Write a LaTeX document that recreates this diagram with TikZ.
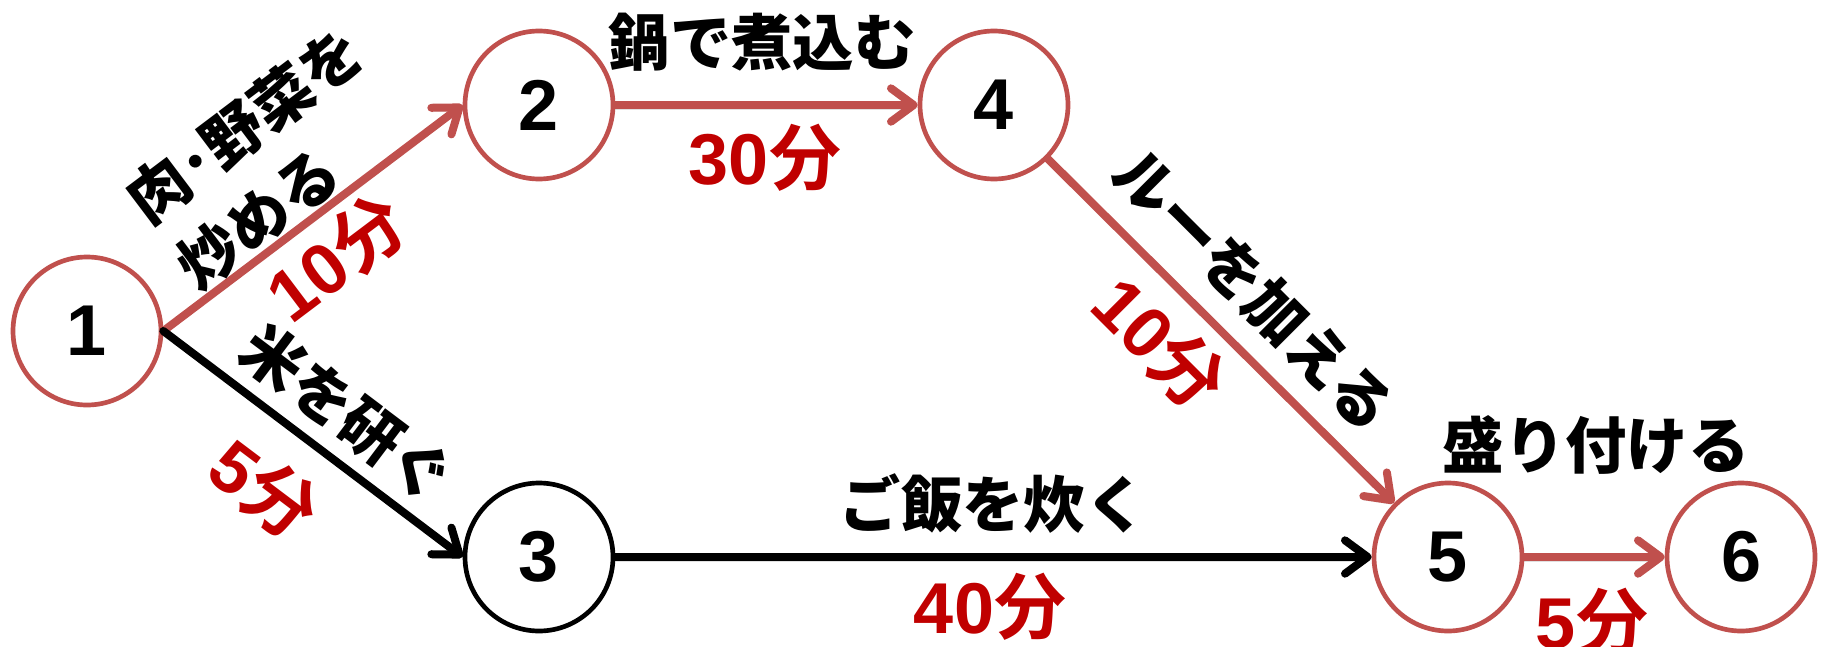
\documentclass[tikz,border=0pt]{standalone}
\usepackage{fontspec}
\setmainfont{Liberation Sans}
\newfontfamily\jp{Noto Sans CJK JP Black}
\usetikzlibrary{arrows.meta}
\definecolor{edgered}{HTML}{C0504D}
\definecolor{labred}{HTML}{C00000}
\newcommand\minjp{{\jp 分}}
\tikzset{
 evnode/.style={circle, draw=edgered, line width=3.5pt, minimum size=111pt, inner sep=0pt,
   font=\fontsize{54}{60}\selectfont\bfseries, fill=white},
 blknode/.style={evnode, draw=black},
 redarrow/.style={draw=edgered, line width=6pt, line cap=round,
   -{Straight Barb[length=17pt,width=25pt,line cap=round,line join=round]},
   preaction={draw=black, opacity=0.12, transform canvas={yshift=-3pt}}},
 blkarrow/.style={redarrow, draw=black},
 tasklbl/.style={font=\jp\fontsize{46}{62}\selectfont, inner sep=0pt, align=left},
 timelbl/.style={font=\bfseries\fontsize{54}{60}\selectfont, text=labred, inner sep=0pt},
}
\begin{document}
\begin{tikzpicture}[x=0.75pt,y=-0.75pt]
\useasboundingbox (0,0) rectangle (1827,646);
\node[evnode] (n1) at (87,331) {1};
\node[evnode] (n2) at (539,105) {2};
\node[evnode] (n4) at (994,105) {4};
\node[blknode] (n3) at (539,557) {3};
\node[evnode] (n5) at (1448,557) {5};
\node[evnode] (n6) at (1741,557) {6};
\draw[redarrow] (n1.east) -- (n2.west);
\draw[blkarrow] (n1.east) -- (n3.west);
\draw[redarrow] (n2) -- (n4);
\draw[redarrow] (n4.south east) -- (n5.north west);
\draw[blkarrow] (n3) -- (n5);
\draw[redarrow] (n5) -- (n6);
\node[tasklbl, rotate=37] (l12) at (270,158) {肉･野菜を\\炒める};
\node[timelbl, rotate=37] (t12) at (336,258) {10\minjp};
\node[tasklbl, rotate=-37] (l13) at (347,413) {米を研ぐ};
\node[timelbl, rotate=-37] (t13) at (264,489) {5\minjp};
\node[tasklbl] (l24) at (762,42) {鍋で煮込む};
\node[timelbl] (t24) at (765,158) {30\minjp};
\node[tasklbl, rotate=-45] (l45) at (1254,290) {ルーを加える};
\node[timelbl, rotate=-45] (t45) at (1160,343) {10\minjp};
\node[tasklbl] (l35) at (993,504) {ご飯を炊く};
\node[timelbl] (t35) at (990,607) {40\minjp};
\node[tasklbl] (l56) at (1596,445) {盛り付ける};
\node[timelbl] (t56) at (1592,622) {5\minjp};
\end{tikzpicture}
\end{document}
